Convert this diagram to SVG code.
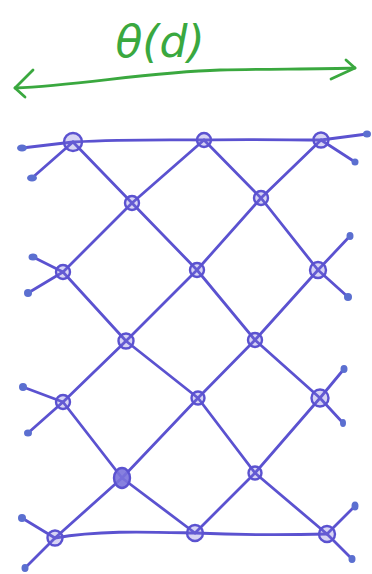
<svg xmlns="http://www.w3.org/2000/svg" width="372" height="574" viewBox="0 0 372 574">
<defs>
<style>
.ln{fill:none;stroke:#5b52d0;stroke-width:2.8;stroke-linecap:round;stroke-linejoin:round}
.nd{fill:#7a72dc;fill-opacity:0.3;stroke:#5b52d0;stroke-width:2.4}
.tip{fill:#5b6fd0;stroke:none}
.gr{fill:none;stroke:#3aa83f;stroke-width:2.8;stroke-linecap:round;stroke-linejoin:round}
.lbl{font-family:"DejaVu Sans","Liberation Sans",sans-serif;font-style:italic;font-size:44px;fill:#3aa83f}
</style>
</defs>
<rect width="372" height="574" fill="#ffffff"/>
<g id="width-arrow">
<path class="gr" d="M15,88 C80,85 150,72 220,70 C270,69 320,69 355,68"/>
<path class="gr" d="M33,70 L15,88 L25,97"/>
<path class="gr" d="M346,60 L355,68 L331,79"/>
<text class="lbl" x="160" y="57" text-anchor="middle">θ(d)</text>
</g>
<g id="connectors">
<path class="ln" d="M73,142 C130,139 180,140 204,140 C250,139 290,140 321,140"/>
<path class="ln" d="M55,538 C100,530 150,532 195,533 C240,535 290,535 327,534"/>
<path class="ln" d="M73,142 L132,203 L197,270 L255,340 L320,398"/>
<path class="ln" d="M204,140 L261,198 L318,270"/>
<path class="ln" d="M63,272 L126,341 L198,398 L255,473 L327,534"/>
<path class="ln" d="M63,402 L122,478"/>
<path class="ln" d="M122,478 L195,533"/>
<path class="ln" d="M321,140 L261,198 L197,270 L126,341 L63,402"/>
<path class="ln" d="M204,140 L132,203 L63,272"/>
<path class="ln" d="M318,270 L255,340 L198,398 L122,478 L55,538"/>
<path class="ln" d="M320,398 L255,473 L195,533"/>
<path class="ln" d="M73,142 L22,148 M73,142 L32,178"/>
<path class="ln" d="M321,140 L367,134 M321,140 L355,162"/>
<path class="ln" d="M63,272 L33,257 M63,272 L28,293"/>
<path class="ln" d="M318,270 L350,236 M318,270 L348,297"/>
<path class="ln" d="M63,402 L23,387 M63,402 L28,433"/>
<path class="ln" d="M320,398 L344,369 M320,398 L343,423"/>
<path class="ln" d="M55,538 L22,518 M55,538 L25,568"/>
<path class="ln" d="M327,534 L355,506 M327,534 L352,559"/>
</g>
<g id="tips">
<ellipse class="tip" cx="22" cy="148" rx="5" ry="3.5"/>
<ellipse class="tip" cx="32" cy="178" rx="5" ry="3.5"/>
<ellipse class="tip" cx="367" cy="134" rx="4" ry="3.5"/>
<ellipse class="tip" cx="355" cy="162" rx="3.5" ry="3.5"/>
<ellipse class="tip" cx="33" cy="257" rx="4.5" ry="3.5"/>
<ellipse class="tip" cx="28" cy="293" rx="4" ry="4"/>
<ellipse class="tip" cx="350" cy="236" rx="3.5" ry="4"/>
<ellipse class="tip" cx="348" cy="297" rx="4" ry="4"/>
<ellipse class="tip" cx="23" cy="387" rx="4" ry="4"/>
<ellipse class="tip" cx="28" cy="433" rx="4" ry="3.5"/>
<ellipse class="tip" cx="344" cy="369" rx="3.5" ry="4"/>
<ellipse class="tip" cx="343" cy="423" rx="3" ry="4"/>
<ellipse class="tip" cx="22" cy="518" rx="4" ry="4"/>
<ellipse class="tip" cx="25" cy="568" rx="3.5" ry="4"/>
<ellipse class="tip" cx="355" cy="506" rx="3.5" ry="4.5"/>
<ellipse class="tip" cx="352" cy="559" rx="3.5" ry="4"/>
</g>
<g id="n1"><circle class="nd" cx="73" cy="142" r="9"/></g>
<g id="n2"><circle class="nd" cx="204" cy="140" r="7"/></g>
<g id="n3"><circle class="nd" cx="321" cy="140" r="7.5"/></g>
<g id="n4"><circle class="nd" cx="132" cy="203" r="7"/></g>
<g id="n5"><circle class="nd" cx="261" cy="198" r="7"/></g>
<g id="n6"><circle class="nd" cx="63" cy="272" r="7"/></g>
<g id="n7"><circle class="nd" cx="197" cy="270" r="7"/></g>
<g id="n8"><circle class="nd" cx="318" cy="270" r="8"/></g>
<g id="n9"><circle class="nd" cx="126" cy="341" r="7.5"/></g>
<g id="n10"><circle class="nd" cx="255" cy="340" r="7"/></g>
<g id="n11"><circle class="nd" cx="63" cy="402" r="7"/></g>
<g id="n12"><circle class="nd" cx="198" cy="398" r="6.5"/></g>
<g id="n13"><circle class="nd" cx="320" cy="398" r="8.5"/></g>
<g id="n14"><ellipse class="nd" cx="122" cy="478" rx="8" ry="10" style="fill-opacity:0.9"/></g>
<g id="n15"><circle class="nd" cx="255" cy="473" r="6.5"/></g>
<g id="n16"><circle class="nd" cx="55" cy="538" r="7.5"/></g>
<g id="n17"><circle class="nd" cx="195" cy="533" r="8"/></g>
<g id="n18"><circle class="nd" cx="327" cy="534" r="8"/></g>
</svg>
